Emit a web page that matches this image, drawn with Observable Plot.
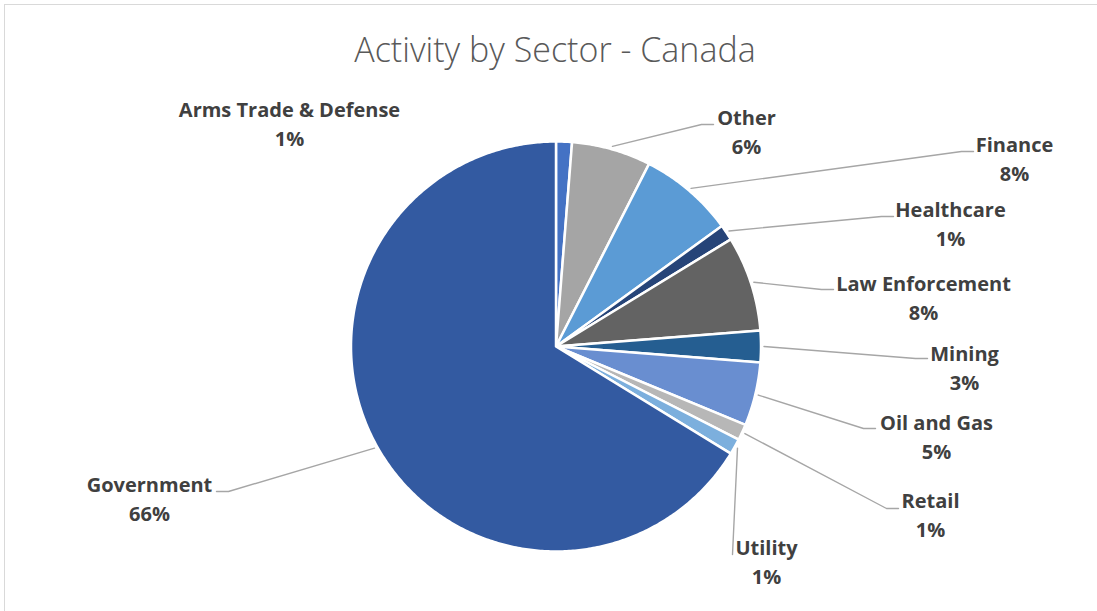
<!DOCTYPE html>
<html><head><meta charset="utf-8">
<script src="https://cdn.jsdelivr.net/npm/d3@7"></script>
<script src="https://cdn.jsdelivr.net/npm/@observablehq/plot@0.6"></script>
<style>
html,body{margin:0;padding:0;background:#fff;}
#wrap{position:relative;width:1097px;height:611px;overflow:hidden;}
#chart{position:absolute;left:0;top:0;}
#frame{position:absolute;left:4px;top:4px;width:1200px;height:700px;border:1.5px solid #d9d9d9;}
#title{position:absolute;left:0;width:1110px;top:29px;text-align:center;font-family:"Open Sans",sans-serif;font-weight:300;font-size:34px;color:#595959;line-height:40px;white-space:nowrap;}
</style></head><body>
<div id="wrap"><div id="chart"></div><div id="frame"></div><div id="title">Activity by Sector - Canada</div></div>
<script>
// ---- data ----
const sectors = ["Arms Trade & Defense","Other","Finance","Healthcare","Law Enforcement","Mining","Oil and Gas","Retail","Utility","Government"];
const counts = [1,5,6,1,6,2,4,1,1,53];
const colors = ["#4472C4","#A5A5A5","#5B9BD5","#264478","#636363","#255E91","#698ED0","#B7B7B7","#7CAFDD","#335AA1"];
// ---- layout (label centre of first line, leader-line end) ----
const labelCenter = [[289,109],[746,117],[1014,144],[950,209],[923,283],[964,353],[936,422],[930,500],[766,547],[149,484]];
const leaderEnd = [null,[713,124],[973,151],[893,216],[833,289],[927,358],[875,428],[898,508],[732,554],[216,491]];
const W = 1097, H = 611, cx = 555.5, cy = 346, R = 205;
const LH = 29, FS = 20;

const total = d3.sum(counts);
const table = sectors.map((name, i) => ({name, value: counts[i], color: colors[i]}));
const arcs = d3.pie().sort(null).value(d => d.value)(table);

const pt = (a, r) => ({x: cx + r * Math.sin(a), y: cy - r * Math.cos(a)});

const slicePts = [];
arcs.forEach(a => {
  slicePts.push({name: a.data.name, ...pt(0, 0)});
  const n = Math.max(2, Math.ceil((a.endAngle - a.startAngle) / 0.01));
  for (let k = 0; k <= n; k++) {
    const t = a.startAngle + (a.endAngle - a.startAngle) * k / n;
    slicePts.push({name: a.data.name, ...pt(t, R)});
  }
});

const leaderPts = [];
arcs.forEach((a, i) => {
  const e = leaderEnd[i];
  if (!e) return;
  const mid = (a.startAngle + a.endAngle) / 2;
  const s = pt(mid, R + 3);
  const name = a.data.name;
  leaderPts.push({name, ...s});
  if (Math.abs(e[0] - s.x) > 20) {
    const dir = e[0] > s.x ? -1 : 1;
    leaderPts.push({name, x: e[0] + dir * 12, y: e[1]});
  }
  leaderPts.push({name, x: e[0], y: e[1]});
});

const labels = arcs.map((a, i) => ({
  x: labelCenter[i][0],
  y: labelCenter[i][1] + LH / 2 - 2,
  text: a.data.name + "\n" + Math.round(a.data.value / total * 100) + "%"
}));

const chart = Plot.plot({
  width: W, height: H, margin: 0,
  x: {domain: [0, W], range: [0, W], axis: null},
  y: {domain: [0, H], range: [0, H], axis: null},
  color: {domain: sectors, range: colors},
  style: {background: "white"},
  marks: [
    Plot.line(slicePts, {x: "x", y: "y", z: "name", fill: "name", stroke: "white", strokeWidth: 2.5, strokeLinejoin: "round", curve: "linear-closed"}),
    Plot.line(leaderPts, {x: "x", y: "y", z: "name", stroke: "#a6a6a6", strokeWidth: 1.4}),
    Plot.text(labels, {x: "x", y: "y", text: "text", fontSize: FS, fontWeight: "bold", fontFamily: "'Open Sans', sans-serif", fill: "#404040", lineHeight: LH / FS, lineAnchor: "middle", textAnchor: "middle"})
  ]
});
document.getElementById("chart").appendChild(chart);
</script>
</body></html>
